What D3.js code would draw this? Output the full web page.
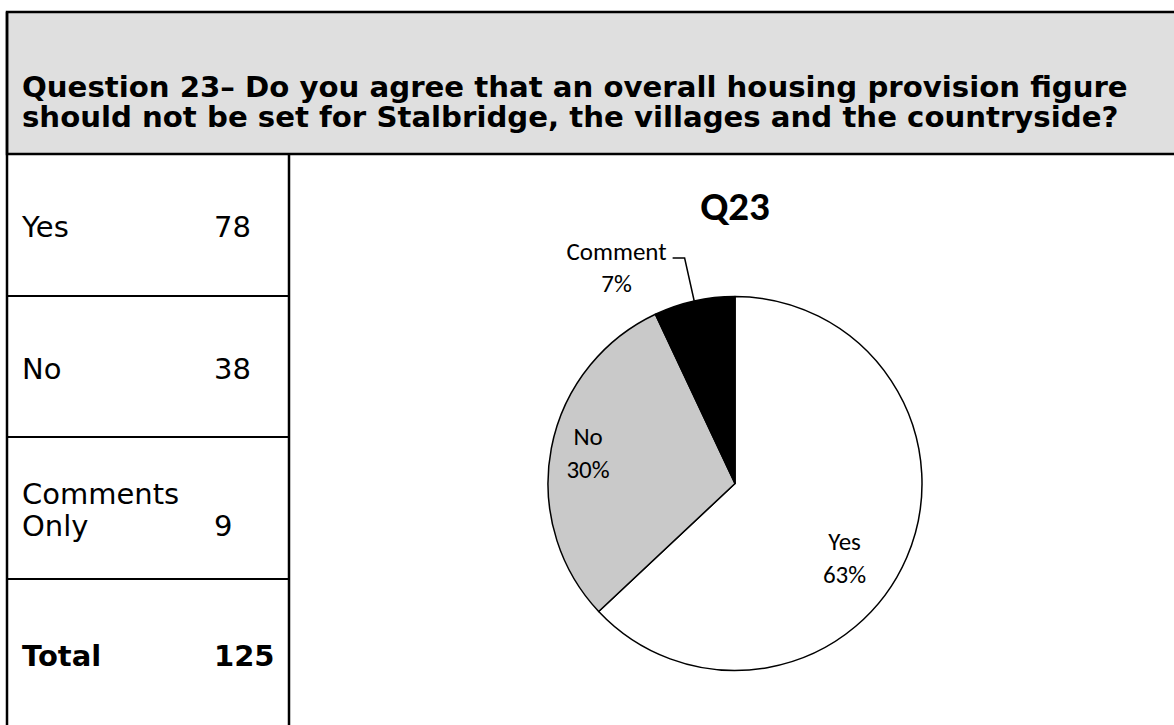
<!DOCTYPE html>
<html>
<head>
<meta charset="utf-8">
<script src="https://cdn.jsdelivr.net/npm/d3@7"></script>
<style>
  html, body { margin: 0; padding: 0; background: #ffffff; }
  svg { display: block; }
</style>
</head>
<body>
<svg id="chart" width="1174" height="725"></svg>
<script>
// Survey answers for question 23
const questionLines = [
  "Question 23\u2013 Do you agree that an overall housing provision figure",
  "should not be set for Stalbridge, the villages and the countryside?"
];
const answerLabels = [["Yes"], ["No"], ["Comments", "Only"]];
const answerCounts = [78, 38, 9];
const totalLabel = "Total";

// Pie chart shares as printed on the slices
const pieTitle = "Q23";
const pieCategories = ["Yes", "No", "Comment"];
const pieShares = [63, 30, 7];

// ---- layout & style ----
const W = 1174, H = 725;
const frame = { left: 7, top: 12, headerBottom: 154, divider: 289 };
const rowHeights = [142, 141, 142, 150];
const tableFont = "'DejaVu Sans', Verdana, sans-serif";
const chartFont = "Carlito, Calibri, Lato, 'Open Sans', sans-serif";
const sliceFill = { Yes: "#ffffff", No: "#c9c9c9", Comment: "#000000" };

const svg = d3.select("#chart");

// Header box with the question
svg.append("rect")
  .attr("x", frame.left).attr("y", frame.top)
  .attr("width", W - frame.left + 20).attr("height", frame.headerBottom - frame.top)
  .attr("fill", "#dfdfdf").attr("stroke", "#000").attr("stroke-width", 2.5);

svg.append("g")
  .selectAll("text")
  .data(questionLines)
  .join("text")
  .attr("x", 22)
  .attr("y", (d, i) => 97 + i * 30)
  .attr("font-family", tableFont)
  .attr("font-weight", "bold")
  .attr("font-size", 29.2)
  .attr("fill", "#000")
  .text(d => d);

// Left table: answers and counts
const rows = answerLabels.map((lines, i) => ({ lines, value: answerCounts[i], bold: false }));
rows.push({ lines: [totalLabel], value: d3.sum(answerCounts), bold: true });

const rowTops = d3.cumsum([frame.headerBottom, ...rowHeights]);
const rowTop = i => rowTops[i];
const rowMid = i => (rowTops[i] + rowTops[i + 1]) / 2;

const grid = svg.append("g").attr("stroke", "#000");
grid.selectAll("line.row")
  .data(d3.range(1, rows.length))
  .join("line")
  .attr("class", "row")
  .attr("x1", frame.left).attr("x2", frame.divider)
  .attr("y1", d => rowTop(d)).attr("y2", d => rowTop(d))
  .attr("stroke-width", 2.2);
grid.append("line")
  .attr("x1", frame.left).attr("x2", frame.left)
  .attr("y1", frame.top).attr("y2", H + 5)
  .attr("stroke-width", 2.5);
grid.append("line")
  .attr("x1", frame.divider).attr("x2", frame.divider)
  .attr("y1", frame.headerBottom).attr("y2", H + 5)
  .attr("stroke-width", 2.5);

const lineGap = 32;
const rowG = svg.append("g")
  .selectAll("g")
  .data(rows)
  .join("g")
  .attr("font-family", tableFont)
  .attr("font-size", 29)
  .attr("font-weight", d => d.bold ? "bold" : "normal")
  .attr("fill", "#000");

rowG.each(function(d, i) {
  const g = d3.select(this);
  const mid = rowMid(i) + 12;
  const first = mid - (d.lines.length - 1) * lineGap / 2;
  d.lines.forEach((t, k) => {
    g.append("text").attr("x", 22).attr("y", first + k * lineGap).text(t);
  });
  g.append("text")
    .attr("x", 214)
    .attr("y", first + (d.lines.length - 1) * lineGap)
    .text(d.value);
});

// Pie chart
const cx = 735, cy = 483.5, r = 187;
const pieData = pieCategories.map((c, i) => ({ cat: c, share: pieShares[i] }));
const arcs = d3.pie().sort(null).value(d => d.share)(pieData);
const arc = d3.arc().innerRadius(0).outerRadius(r);

const pieG = svg.append("g").attr("transform", `translate(${cx},${cy})`);
pieG.selectAll("path")
  .data(arcs)
  .join("path")
  .attr("d", arc)
  .attr("fill", d => sliceFill[d.data.cat])
  .attr("stroke", "#000")
  .attr("stroke-width", 1.5)
  .attr("stroke-linejoin", "round");

svg.append("text")
  .attr("x", cx).attr("y", 220)
  .attr("text-anchor", "middle")
  .attr("font-family", chartFont)
  .attr("font-weight", "bold")
  .attr("font-size", 41)
  .text(pieTitle);

const pct = d => `${d.data.share}%`;
const labelFont = 25;
const labelGap = 33;

// Inside labels for the two large slices
const inside = { Yes: { k: 0.72, dx: -14, dy: 22 }, No: { k: 0.80, dx: 0, dy: -2 } };
arcs.filter(d => inside[d.data.cat]).forEach(d => {
  const o = inside[d.data.cat];
  const a = (d.startAngle + d.endAngle) / 2;
  const px = Math.sin(a) * r * o.k + o.dx;
  const py = -Math.cos(a) * r * o.k + o.dy;
  const t = pieG.append("text")
    .attr("text-anchor", "middle")
    .attr("font-family", chartFont)
    .attr("font-size", labelFont)
    .attr("fill", "#000");
  t.append("tspan").attr("x", px).attr("y", py - labelGap / 2 + 8).text(d.data.cat);
  t.append("tspan").attr("x", px).attr("y", py + labelGap / 2 + 8).text(pct(d));
});

// Outside label with leader line for the small slice
arcs.filter(d => !inside[d.data.cat]).forEach(d => {
  const a = (d.startAngle + d.endAngle) / 2;
  const p0 = [Math.sin(a) * r, -Math.cos(a) * r];
  const p1 = [Math.sin(a) * r * 1.235, -Math.cos(a) * r * 1.235];
  const p2 = [p1[0] - 12, p1[1]];
  pieG.append("polyline")
    .attr("points", [p0, p1, p2].map(p => p.join(",")).join(" "))
    .attr("fill", "none")
    .attr("stroke", "#000")
    .attr("stroke-width", 1.5);
  const t = pieG.append("text")
    .attr("text-anchor", "middle")
    .attr("font-family", chartFont)
    .attr("font-size", labelFont)
    .attr("fill", "#000");
  const l1 = t.append("tspan").attr("y", p1[1] + 2).text(d.data.cat);
  const w = l1.node().getComputedTextLength();
  const tx = p2[0] - 6 - w / 2;
  l1.attr("x", tx);
  t.append("tspan").attr("x", tx).attr("y", p1[1] + 2 + 32).text(pct(d));
});
</script>
</body>
</html>
